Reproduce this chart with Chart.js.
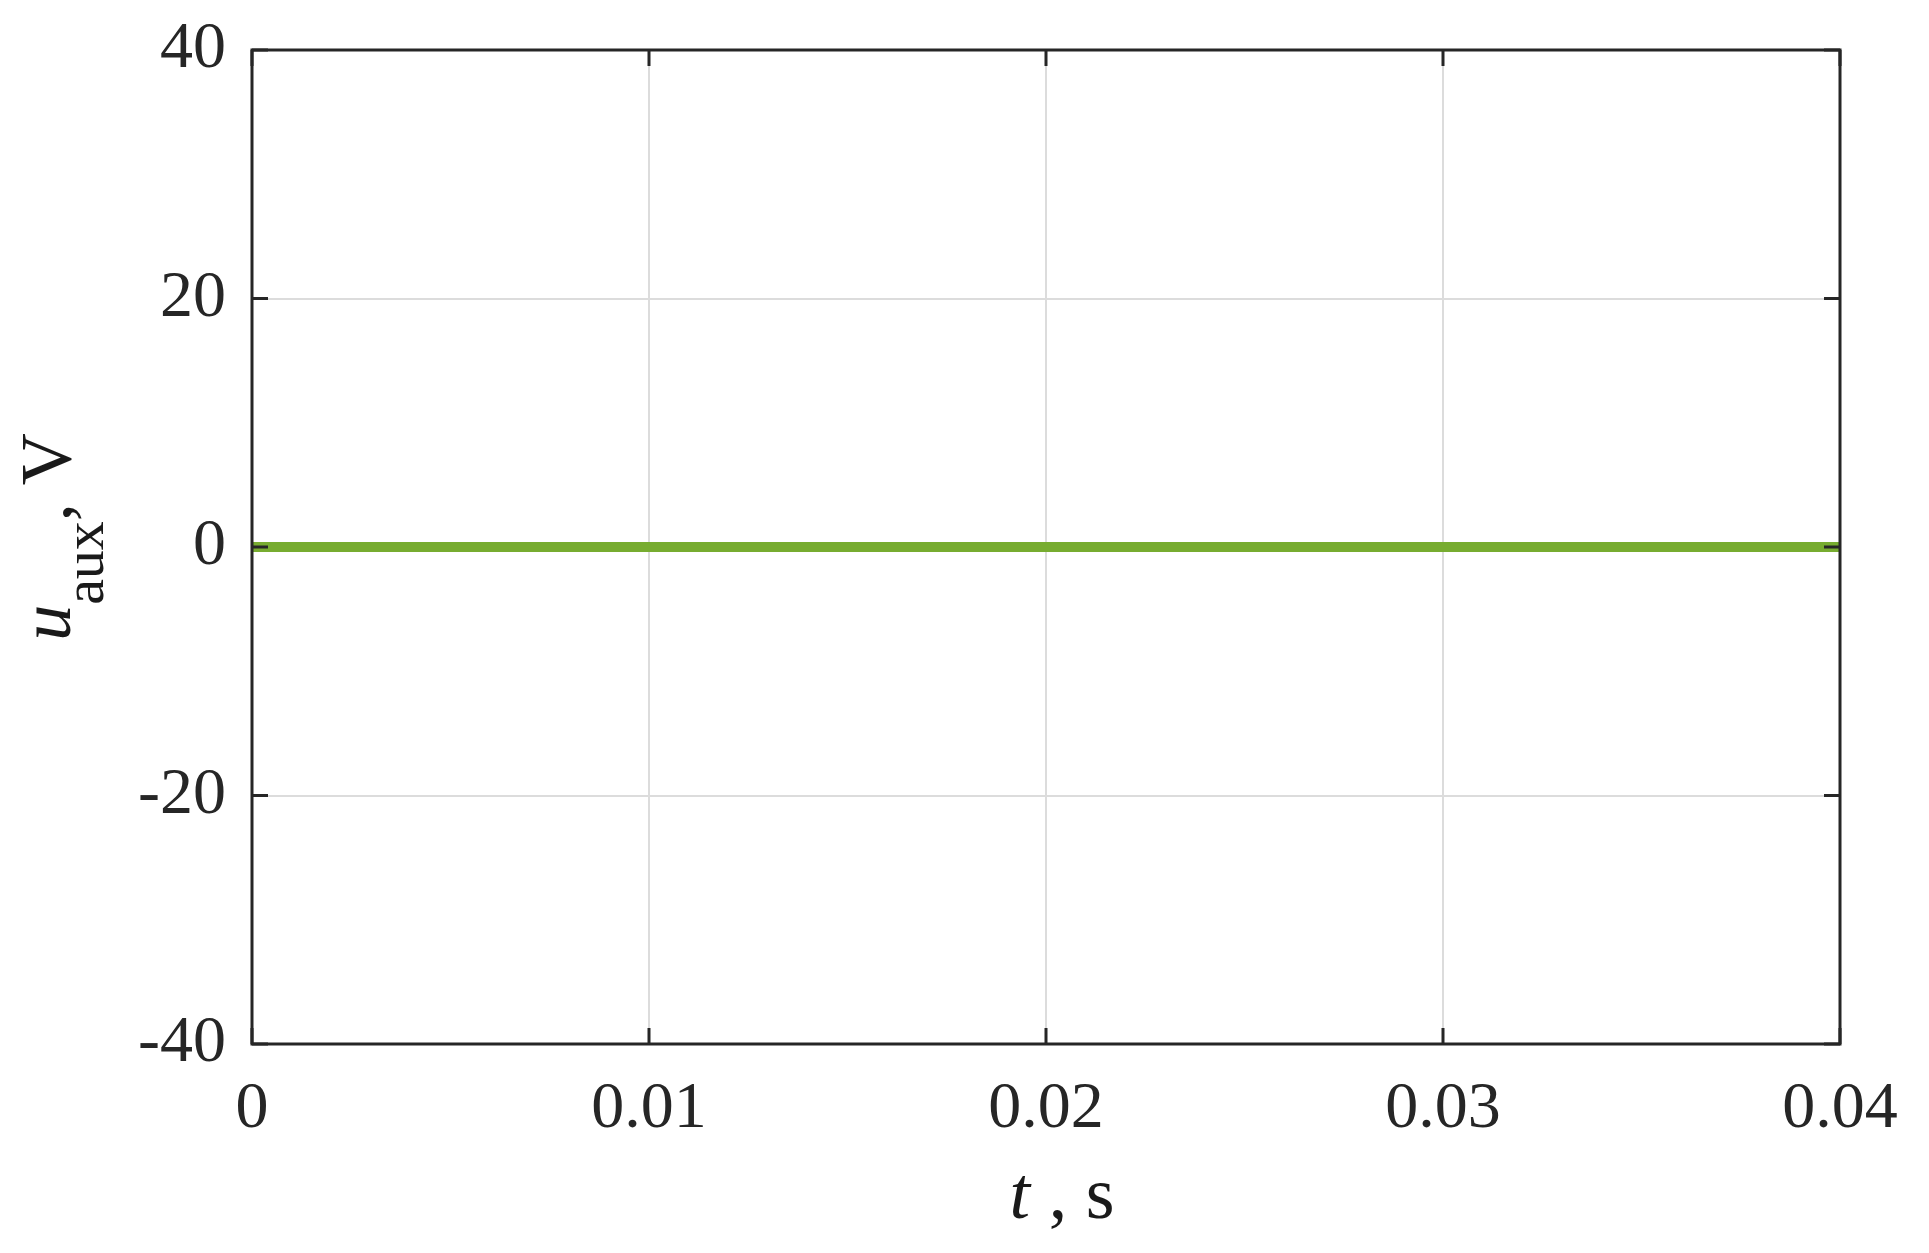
<!DOCTYPE html>
<html>
<head>
<meta charset="utf-8">
<script src="https://cdn.jsdelivr.net/npm/chart.js@4.4.1/dist/chart.umd.min.js"></script>
<style>
html, body { margin: 0; padding: 0; background: #fff; }
#wrap { width: 1929px; height: 1253px; position: relative; }
</style>
</head>
<body>
<div id="wrap"><canvas id="chart"></canvas></div>
<script>
// time axis (s) and the auxiliary voltage (V), flat at zero
var timeValues = [0, 0.01, 0.02, 0.03, 0.04];
var uauxValues = [0, 0, 0, 0, 0];
var xTickValues = [0, 0.01, 0.02, 0.03, 0.04];
var yTickValues = [-40, -20, 0, 20, 40];

var axisColor = '#262626';
var serif = '"Liberation Serif", "Times New Roman", serif';

// MATLAB-like box: frame on all four sides, ticks pointing inwards, axis titles
var boxPlugin = {
	id: 'matlabBox',
	afterDatasetsDraw: function(chart) {
		var ctx = chart.ctx;
		var a = chart.chartArea;
		var xs = chart.scales.x, ys = chart.scales.y;
		var tl = 16;
		ctx.save();
		ctx.strokeStyle = axisColor;
		ctx.lineWidth = 3;
		ctx.beginPath();
		xs.ticks.forEach(function(t) {
			var px = xs.getPixelForValue(t.value);
			ctx.moveTo(px, a.bottom); ctx.lineTo(px, a.bottom - tl);
			ctx.moveTo(px, a.top); ctx.lineTo(px, a.top + tl);
		});
		ys.ticks.forEach(function(t) {
			var py = ys.getPixelForValue(t.value);
			ctx.moveTo(a.left, py); ctx.lineTo(a.left + tl, py);
			ctx.moveTo(a.right, py); ctx.lineTo(a.right - tl, py);
		});
		ctx.stroke();
		ctx.strokeRect(a.left, a.top, a.right - a.left, a.bottom - a.top);
		ctx.restore();
	},
	afterDraw: function(chart) {
		var ctx = chart.ctx;
		var a = chart.chartArea;
		ctx.save();
		ctx.fillStyle = '#1a1a1a';
		ctx.textBaseline = 'alphabetic';

		// x title: "t , s"
		var xparts = [
			{ t: 't', f: 'italic 74px ' + serif, dy: 0 },
			{ t: ' , s', f: '74px ' + serif, dy: 0 }
		];
		drawParts(ctx, xparts, (a.left + a.right) / 2 + 16, 1218);

		// y title: "u_aux, V" rotated
		var yparts = [
			{ t: 'u', f: 'italic 72px ' + serif, dy: 0 },
			{ t: 'aux', f: '58px ' + serif, dy: 33 },
			{ t: ',', f: '72px ' + serif, dy: 0 },
			{ t: ' V', f: '72px ' + serif, dy: 0 }
		];
		ctx.save();
		ctx.translate(70, (a.top + a.bottom) / 2 - 10);
		ctx.rotate(-Math.PI / 2);
		drawParts(ctx, yparts, 0, 0);
		ctx.restore();
		ctx.restore();
	}
};

function drawParts(ctx, parts, cx, baseY) {
	var total = 0;
	parts.forEach(function(p) { ctx.font = p.f; p.w = ctx.measureText(p.t).width; total += p.w; });
	var x = cx - total / 2;
	parts.forEach(function(p) {
		ctx.font = p.f;
		ctx.fillText(p.t, x, baseY + p.dy);
		x += p.w;
	});
}

var ctx = document.getElementById('chart');
var chart = new Chart(ctx, {
	type: 'line',
	data: {
		datasets: [{
			data: timeValues.map(function(t, i) { return { x: t, y: uauxValues[i] }; }),
			borderColor: '#77AC30',
			borderWidth: 10,
			pointRadius: 0,
			fill: false,
			tension: 0
		}]
	},
	options: {
		responsive: true,
		maintainAspectRatio: false,
		animation: false,
		devicePixelRatio: 1,
		layout: { padding: { top: 50, right: 89, left: 0, bottom: 0 } },
		plugins: { legend: { display: false }, tooltip: { enabled: false } },
		scales: {
			x: {
				type: 'linear',
				min: 0, max: 0.04,
				afterBuildTicks: function(s) { s.ticks = xTickValues.map(function(v) { return { value: v }; }); },
				afterFit: function(s) { s.height = 1253 - 1044; },
				grid: { color: '#dcdcdc', lineWidth: 2, drawTicks: false },
				border: { display: false },
				ticks: {
					padding: 26,
					maxRotation: 0,
					color: axisColor,
					font: { family: serif, size: 66 },
					callback: function(v) { return String(v); }
				}
			},
			y: {
				type: 'linear',
				min: -40, max: 40,
				afterBuildTicks: function(s) { s.ticks = yTickValues.map(function(v) { return { value: v }; }); },
				afterFit: function(s) { s.width = 252; },
				grid: { color: '#dcdcdc', lineWidth: 2, drawTicks: false },
				border: { display: false },
				ticks: {
					padding: 26,
					color: axisColor,
					font: { family: serif, size: 66, lineHeight: 0.5 },
					callback: function(v) { return String(v); }
				}
			}
		}
	},
	plugins: [boxPlugin]
});
</script>
</body>
</html>
